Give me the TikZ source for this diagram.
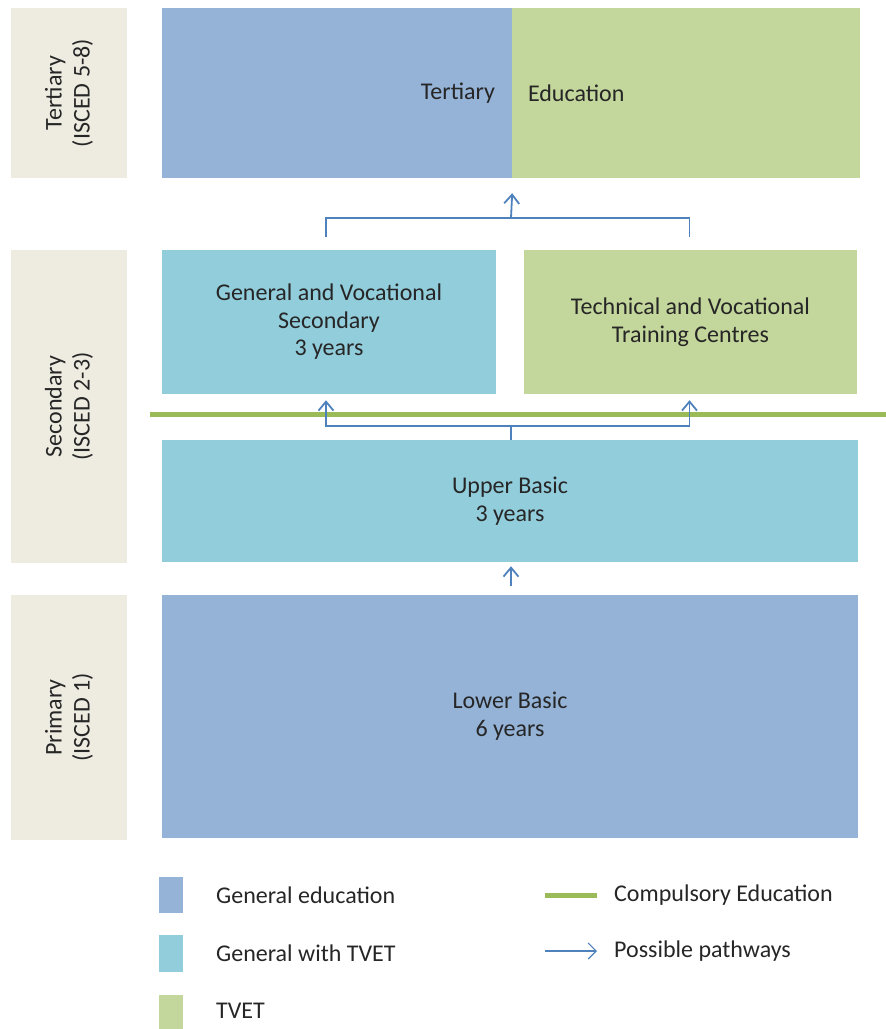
\documentclass[tikz,border=0pt]{standalone}
\usepackage{fontspec}
\setmainfont{Carlito}
\usetikzlibrary{arrows.meta}
\definecolor{genblue}{HTML}{95B3D7}
\definecolor{mixblue}{HTML}{92CDDC}
\definecolor{tvetgreen}{HTML}{C3D69B}
\definecolor{compgreen}{HTML}{9BBB59}
\definecolor{pathblue}{HTML}{4F81BD}
\definecolor{sidegray}{HTML}{EEECE1}
\definecolor{textgray}{HTML}{262626}
\tikzset{
  box/.style={inner sep=0pt, align=center, text=textgray},
  side/.style={box, fill=sidegray, rotate=90, minimum height=116pt},
  pathway/.style={draw=pathblue, line width=1.8pt},
  pathtip/.style={pathway, -{Straight Barb[length=9pt,width=15pt]}},
  compulsory/.style={draw=compgreen, line width=5pt},
  legtext/.style={anchor=west, inner sep=0pt, text=textgray}
}
\begin{document}
\begin{tikzpicture}[x=1pt,y=-1pt]
\fontsize{24}{28}\selectfont
\useasboundingbox (0,0) rectangle (886,1029);
% level labels
\node[side, minimum width=170pt] (sidet) at (69,93) {Tertiary\\(ISCED 5-8)};
\node[side, minimum width=313pt] (sides) at (69,406.5) {Secondary\\(ISCED 2-3)};
\node[side, minimum width=245pt] (sidep) at (69,717.5) {Primary\\(ISCED 1)};
% tertiary
\node[box, fill=genblue, minimum width=350pt, minimum height=170pt, text width=316pt, align=right] (tergen) at (337,93) {Tertiary};
\node[box, fill=tvetgreen, minimum width=348pt, minimum height=170pt, text width=316pt, align=left] (tertvet) at (686,93) {Education};
% secondary
\node[box, fill=mixblue, minimum width=334pt, minimum height=144pt] (gvs) at (329,322) {General and Vocational\\Secondary\\[-1pt]3 years};
\node[box, fill=tvetgreen, minimum width=333pt, minimum height=144pt] (tvc) at (690.5,322) {Technical and Vocational\\Training Centres};
\node[box, fill=mixblue, minimum width=696pt, minimum height=122pt] (upper) at (510,501) {Upper Basic\\3 years};
% primary
\node[box, fill=genblue, minimum width=696pt, minimum height=243pt] (lower) at (510,716.5) {Lower Basic\\6 years};
% compulsory education
\draw[compulsory] (150,414) -- (886,414);
% pathways
\coordinate (topfork) at (511,218);
\coordinate (midfork) at (511,426);
\draw[pathway] ([xshift=-3pt,yshift=13pt]gvs.north) |- (topfork) -| ([xshift=-1pt,yshift=13pt]tvc.north);
\draw[pathtip] (topfork) -- ([yshift=-15pt]tergen.south east);
\draw[pathway] (upper.north -| midfork) -- (midfork);
\draw[pathtip] (midfork) -| ([xshift=-3pt,yshift=-6pt]gvs.south);
\draw[pathtip] (midfork) -| ([xshift=-1pt,yshift=-6pt]tvc.south);
\draw[pathtip] ([xshift=1pt,yshift=9pt]lower.north) -- ([xshift=1pt,yshift=-4pt]upper.south);
% legend
\node[box, fill=genblue, minimum width=24pt, minimum height=36pt] (leggen) at (171,895) {};
\node[box, fill=mixblue, minimum width=24pt, minimum height=37pt] (legmix) at (171,953.5) {};
\node[box, fill=tvetgreen, minimum width=24pt, minimum height=36pt] (legtvet) at (171,1013) {};
\node[legtext] (legtgen) at (216,895) {General education};
\node[legtext] (legtmix) at (216,953) {General with TVET};
\node[legtext] (legttvet) at (216,1011) {TVET};
\coordinate (compa) at (545,895);
\coordinate (compb) at (597,895);
\draw[compulsory] (compa) -- (compb);
\node[legtext] (legtcomp) at (614,895) {Compulsory Education};
\coordinate (patha) at (545,951);
\coordinate (pathb) at (597,951);
\draw[pathway, line width=1.2pt, -{Straight Barb[length=8pt,width=16pt]}] (patha) -- (pathb);
\node[legtext] (legtpath) at (614,951) {Possible pathways};
\end{tikzpicture}
\end{document}
